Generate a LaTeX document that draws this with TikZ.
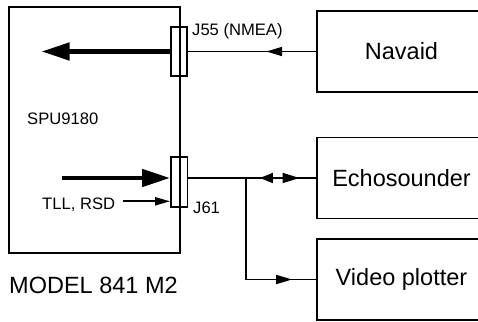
\documentclass[tikz,border=0pt]{standalone}
\usepackage{fontspec}
\setmainfont{Liberation Sans}
\usetikzlibrary{arrows.meta, decorations.markings}

\begin{document}
\begin{tikzpicture}[x=1pt, y=-1pt, >=Triangle,
        box/.style={draw, line width=1.8pt, minimum width=169pt, minimum height=81pt, font=\fontsize{23.5}{28}\selectfont},
        jack/.style={draw, line width=1.8pt, minimum width=16.5pt, minimum height=49pt, inner sep=0pt},
        lbl/.style={anchor=base west, inner sep=0pt, font=\fontsize{16.6}{20}\selectfont},
        wire/.style={line width=1.8pt},
        bigarrow/.style={-{Triangle[length=28pt, width=17pt]}, line width=4.5pt},
        smallarrow/.style={-{Triangle[length=15pt, width=8pt]}, line width=1.8pt},
        midarrow/.style={postaction={decorate}, decoration={markings,
            mark=at position #1 with {\arrow{Triangle[length=16pt, width=9pt]}}}},
        dblarrow/.style={postaction={decorate}, decoration={markings,
            mark=at position 0.56 with {\arrowreversed{Triangle[length=13pt, width=10pt]}},
            mark=at position 0.87 with {\arrow{Triangle[length=17pt, width=10pt]}}}}]

        \useasboundingbox (0,0) rectangle (478,321);

        % main unit
        \node[draw, line width=1.8pt, minimum width=171pt, minimum height=246pt] (spu) at (94.5,130) {};
        \node[lbl] (spuname) at (27,124) {SPU9180};
        \node[lbl, font=\fontsize{23.5}{28}\selectfont] (model) at (9,293) {MODEL 841 M2};

        % connectors
        \node[jack] (j55) at (179,51.5) {};
        \node[jack, minimum height=50pt] (j61) at (179.25,182) {};
        \node[lbl] (j55name) at (192,36) {J55 (NMEA)};
        \node[lbl] (j61name) at (193,213) {J61};
        \node[lbl] (tll) at (42,209) {TLL, RSD};

        % external units
        \node[box] (navaid) at (401.5,51.5) {Navaid};
        \node[box] (echo) at (401.5,178) {Echosounder};
        \node[box] (video) at (401.5,279.5) {Video plotter};

        \coordinate (navin) at (41.5,51.5);
        \coordinate (spuout) at (62,178);
        \coordinate (tllin) at (123,201.3);
        \coordinate (split) at (246,178);

        \draw[bigarrow] (j55.west) -- (navin);
        \draw[wire, midarrow=0.39] (navaid.west) -- (j55.east);
        \draw[bigarrow] (spuout) -- (j61.west |- spuout);
        \draw[smallarrow] (tllin) -- (j61.west |- tllin);
        \draw[wire, dblarrow] (j61.east |- echo.west) -- (echo.west);
        \draw[wire, midarrow=0.86] (split) |- (video.west);
    \end{tikzpicture}
\end{document}
